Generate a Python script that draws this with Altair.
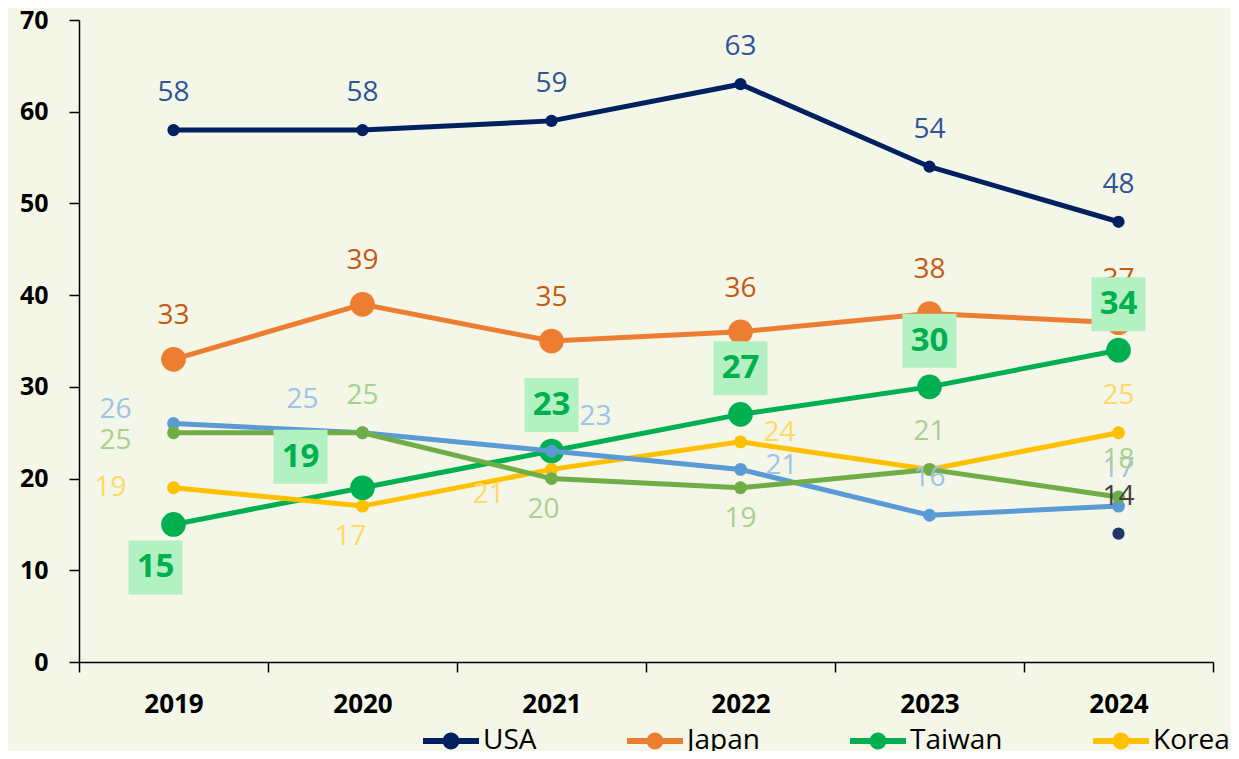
import altair as alt
import pandas as pd

# ---------------- data ----------------
YEARS = ["2019", "2020", "2021", "2022", "2023", "2024"]
SERIES = ["USA", "Japan", "Taiwan", "Korea", "Series 5", "Series 6", "Series 7"]
LEGEND_SHOWN = ["USA", "Japan", "Taiwan", "Korea"]

USA = [58, 58, 59, 63, 54, 48]
JAPAN = [33, 39, 35, 36, 38, 37]
TAIWAN = [15, 19, 23, 27, 30, 34]
KOREA = [19, 17, 21, 24, 21, 25]
SERIES5 = [26, 25, 23, 21, 16, 17]
SERIES6 = [25, 25, 20, 19, 21, 18]
SERIES7 = [None, None, None, None, None, 14]

VALUES = {
    "USA": USA, "Japan": JAPAN, "Taiwan": TAIWAN, "Korea": KOREA,
    "Series 5": SERIES5, "Series 6": SERIES6, "Series 7": SERIES7,
}

# ---------------- label placement (style) ----------------
PLACE = {
    "above": (0, -37), "above_big": (0, -43), "box_above": (0, -46),
    "box_below_left": (-18, 43), "box_upper_left": (-62, -31),
    "left": (-63, 0), "left_low": (-58, 8), "left_high": (-58, -14),
    "upper_left": (-60, -33), "upper_right": (44, -34), "right": (41, -3),
    "right_high": (39, -9), "below": (0, 31), "below_left": (-12, 31),
    "lower_left": (-63, 26), "below_slight_left": (-8, 31), "none": (0, 0),
}
PLACEMENTS = {
    "USA": ["above"] * 6,
    "Japan": ["above_big"] * 6,
    "Taiwan": ["box_below_left", "box_upper_left", "box_above", "box_above", "box_above", "box_above"],
    "Korea": ["left", "below_left", "lower_left", "right_high", "none", "above"],
    "Series 5": ["left_high", "upper_left", "upper_right", "right", "above", "above"],
    "Series 6": ["left_low", "above", "below_slight_left", "below", "above", "above"],
    "Series 7": ["none"] * 5 + ["above"],
}

LINE_COLOR = {
    "USA": "#002060", "Japan": "#ED7D31", "Taiwan": "#00B050", "Korea": "#FFC000",
    "Series 5": "#5B9BD5", "Series 6": "#70AD47", "Series 7": "#203864",
}
LABEL_COLOR = {
    "USA": "#2F5597", "Japan": "#C55A11", "Taiwan": "#00B050", "Korea": "#FFD966",
    "Series 5": "#9DC3E6", "Series 6": "#A9D18E", "Series 7": "#404040",
}
POINT_SIZE = {
    "USA": 150, "Japan": 610, "Taiwan": 610, "Korea": 165,
    "Series 5": 165, "Series 6": 165, "Series 7": 150,
}

W, H = 1134, 642
Y_MAX = 70
PX_PER_UNIT = H / Y_MAX
HALF_BAND = W / len(YEARS) / 2

rows = []
for s in SERIES:
    for yr, v, p in zip(YEARS, VALUES[s], PLACEMENTS[s]):
        if v is None:
            continue
        dx, dy = PLACE[p]
        rows.append({"series": s, "year": yr, "value": v, "place": p, "lx": dx, "ly": dy})
df = pd.DataFrame(rows)

FONT = "Open Sans"
x_enc = alt.X(
    "year:N",
    scale=alt.Scale(type="band", domain=YEARS, paddingInner=0, paddingOuter=0),
    axis=alt.Axis(
        title=None, tickBand="extent", tickSize=10, tickColor="black", tickWidth=1.5,
        domainColor="black", domainWidth=1.5, labelAngle=0, labelFont=FONT,
        labelFontSize=26, labelFontWeight="bold", labelColor="black", labelPadding=19,
    ),
)
y_scale = alt.Scale(domain=[0, Y_MAX], nice=False)
y_enc = alt.Y(
    "value:Q",
    scale=y_scale,
    axis=alt.Axis(
        title=None, values=[0, 10, 20, 30, 40, 50, 60, 70], grid=False, tickSize=10,
        tickColor="black", tickWidth=1.5, domainColor="black", domainWidth=1.5,
        labelFont=FONT, labelFontSize=25, labelFontWeight="bold", labelColor="black",
        labelPadding=21,
    ),
)

SYMBOL = ("M-1,-0.11L1,-0.11L1,0.11L-1,0.11Z "
          "M0.3,0A0.3,0.3,0,1,1,-0.3,0A0.3,0.3,0,1,1,0.3,0Z")
color_enc = alt.Color(
    "series:N",
    scale=alt.Scale(domain=SERIES, range=[LINE_COLOR[s] for s in SERIES]),
    legend=alt.Legend(
        title=None, values=LEGEND_SHOWN, orient="none", direction="horizontal",
        columns=4, legendX=344, legendY=693, symbolType=SYMBOL, symbolSize=3136,
        symbolStrokeWidth=0, symbolOpacity=1, labelFont=FONT, labelFontSize=28,
        labelColor="black", labelOffset=4, columnPadding=90, padding=0,
    ),
)

base = alt.Chart(df)
layers = []
# lines and markers
for s in SERIES:
    d = base.transform_filter(alt.datum.series == s)
    if sum(v is not None for v in VALUES[s]) > 1:
        layers.append(
            d.mark_line(strokeWidth=5, color=LINE_COLOR[s], strokeCap="round").encode(x=x_enc, y=y_enc)
        )
    layers.append(
        d.mark_circle(size=POINT_SIZE[s], opacity=1).encode(x=x_enc, y=y_enc, color=color_enc)
    )

# data labels
for s in SERIES:
    used = []
    for p in PLACEMENTS[s]:
        if p != "none" and p not in used:
            used.append(p)
    for p in used:
        dx, dy = PLACE[p]
        d = base.transform_filter((alt.datum.series == s) & (alt.datum.place == p))
        if s == "Taiwan":
            # green label box behind the bold value
            layers.append(
                d.transform_calculate(
                    box_y=f"datum.value - datum.ly / {PX_PER_UNIT}",
                    box_x=f"datum.lx + {HALF_BAND}",
                )
                .mark_square(size=2916, color="#B3F0C2", opacity=1)
                .encode(
                    x=alt.X("year:N"),
                    xOffset=alt.XOffset("box_x:Q", scale=None),
                    y=alt.Y("box_y:Q", scale=y_scale),
                )
            )
            layers.append(
                d.mark_text(font=FONT, fontSize=33, fontWeight="bold", color=LABEL_COLOR[s],
                            baseline="middle", align="center", dx=dx, dy=dy)
                .encode(x=x_enc, y=y_enc, text=alt.Text("value:Q"))
            )
        else:
            layers.append(
                d.mark_text(font=FONT, fontSize=28, color=LABEL_COLOR[s],
                            baseline="middle", align="center", dx=dx, dy=dy)
                .encode(x=x_enc, y=y_enc, text=alt.Text("value:Q"))
            )

chart = (
    alt.layer(*layers)
    .properties(
        width=W, height=H, background="#F4F6E8",
        autosize=alt.AutoSizeParams(type="none"),
        padding={"left": 71, "top": 12, "right": 18, "bottom": 89},
    )
    .configure_view(stroke=None)
)

chart.save("out.html", embed_options={"renderer": "svg", "actions": False})
